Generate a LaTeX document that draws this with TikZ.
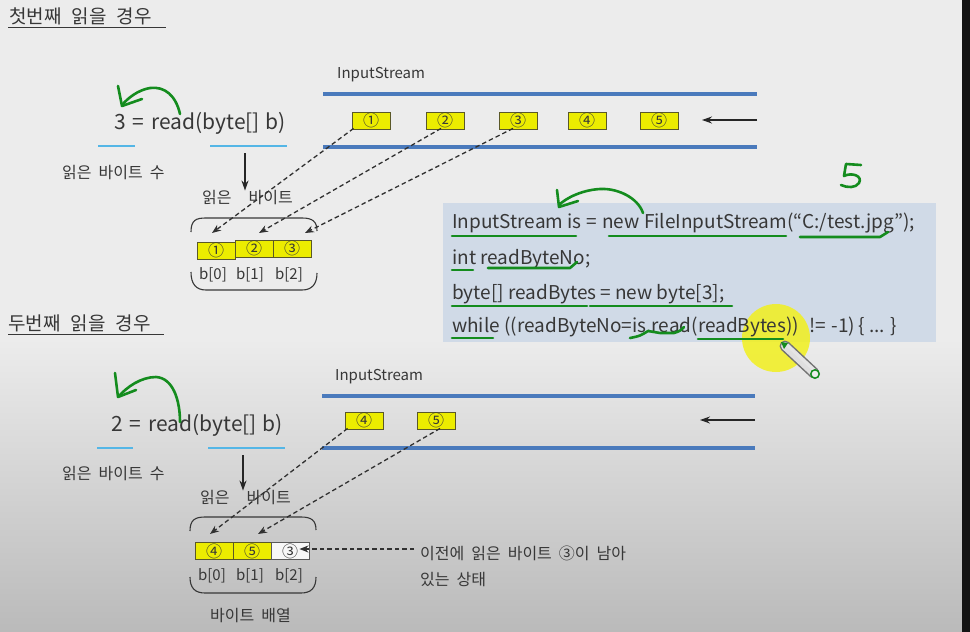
\documentclass[tikz,border=0pt]{standalone}
\usepackage{fontspec}
\setmainfont{Noto Sans CJK KR}
\usetikzlibrary{arrows.meta}
\definecolor{bgtop}{RGB}{236,236,236}
\definecolor{bgbot}{RGB}{186,186,186}
\definecolor{txtgray}{RGB}{55,55,55}
\definecolor{streamblue}{RGB}{74,122,188}
\definecolor{ulblue}{RGB}{84,182,230}
\definecolor{ybyte}{RGB}{236,236,0}
\definecolor{yedge}{RGB}{90,88,40}
\definecolor{codebg}{RGB}{208,218,231}
\definecolor{pengreen}{RGB}{20,140,30}
\definecolor{hiyellow}{RGB}{242,240,30}
\newcommand\kg{\hspace{10pt}}
\newcommand\kk{\hspace{7pt}}
\newcommand\fs[1]{\fontsize{#1}{#1}\selectfont}
\tikzset{
  lbl/.style={text=txtgray, inner sep=0pt, anchor=west},
  ybox/.style={draw=yedge, fill=ybyte, line width=0.9pt, minimum width=38pt, minimum height=17pt, inner sep=0pt, text=txtgray, font=\fs{16}},
  wbox/.style={ybox, fill=white!94!gray, draw=gray!70!black},
  streamline/.style={draw=streamblue, line width=4pt},
  dasharrow/.style={draw=txtgray!90!black, line width=1.3pt, dash pattern=on 4.5pt off 3pt, -{Stealth[length=9pt,width=7pt]}},
  solidarrow/.style={draw=black!85, line width=1.3pt, -{Stealth[length=10pt,width=7pt]}},
  ulb/.style={draw=ulblue, line width=2.6pt},
  brace/.style={draw=txtgray, line width=1.1pt},
  grn/.style={draw=pengreen, line width=2.6pt, line cap=round, line join=round},
  code/.style={text=txtgray, inner sep=0pt, anchor=west, font=\fs{19}},
  blbl/.style={text=txtgray, font=\fs{15}, inner sep=0pt},
  klbl/.style={lbl, font=\fs{16}}
}
\begin{document}
\begin{tikzpicture}[x=1pt,y=-1pt]
\useasboundingbox (0,0) rectangle (970,632);
% background
\fill[bgtop] (0,0) rectangle (962,340);
\shade[top color=bgtop, bottom color=bgbot] (0,339) rectangle (962,632);
\fill[black!92] (962,0) rectangle (970,632);

% ================= first read =================
\node[lbl, font=\fs{19}] (title1) at (9,16) {첫번째\kg 읽을\kg 경우};
\draw[txtgray, line width=1pt] (8,27) -- (166,27);

\node[lbl, font=\fs{21}] (expr1) at (114,123) {3\hspace{7pt}=\hspace{7pt}read(byte[]\hspace{6pt}b)};
\draw[ulb] (98,146) -- (135,146);
\draw[ulb] (210,146) -- (287,146);
\node[klbl] (cnt1) at (62,173) {읽은\kk 바이트\kk 수};
\node[klbl] (rb1) at (202,198) {읽은\hspace{17pt}바이트};
\coordinate (da1s) at (245,153);
\draw[solidarrow] (da1s) -- (rb1.north -| da1s) ;

% braces
\draw[brace] (191,232) .. controls (191,220) and (196,218) .. (206,218) -- (302,218) .. controls (312,218) and (317,221) .. (317,231);
\draw[brace] (191,272) .. controls (191,284) and (196,290) .. (206,290) -- (302,290) .. controls (312,290) and (317,284) .. (317,273);

% array cells
\node[ybox] (c1) at (216,250.5) {①};
\node[ybox] (c2) at (254,248.5) {②};
\node[ybox] (c3) at (292,248.5) {③};
\node[blbl] (b10) at (213,275) {b[0]};
\node[blbl] (b11) at (250,275) {b[1]};
\node[blbl] (b12) at (289,275) {b[2]};

% stream
\node[lbl, font=\fs{15}] (is1) at (337,75) {InputStream};
\draw[streamline] (323,94) -- (757,94);
\draw[streamline] (323,147) -- (757,147);
\node[ybox] (s1) at (371,120.5) {①};
\node[ybox] (s2) at (445,120.5) {②};
\node[ybox] (s3) at (518,120.5) {③};
\node[ybox] (s4) at (587,120.5) {④};
\node[ybox] (s5) at (659,120.5) {⑤};
\coordinate (in1a) at (757,120);
\coordinate (in1b) at (702,120);
\draw[solidarrow] (in1a) -- (in1b);

\coordinate (t1) at (212,233);
\coordinate (t2) at (259,233);
\coordinate (t3) at (305,233);
\draw[dasharrow] (s1.south west) ++(2,-1) -- (t1);
\draw[dasharrow] ([xshift=-4pt,yshift=1pt]s2.south) -- (t2);
\draw[dasharrow] ([xshift=-5pt,yshift=1pt]s3.south) -- (t3);

% ================= code box =================
\fill[codebg] (443,203) rectangle (936,342);
% cursor highlight (under the text)
\fill[hiyellow, opacity=0.85] (776,338) circle (34pt);
\node[code] (L1) at (452,223) {InputStream is\hspace{5pt}=\hspace{5pt}new FileInputStream(“C:/test.jpg”);};
\node[code] (L2) at (452,259) {int readByteNo;};
\node[code] (L3) at (452,294) {byte[] readBytes\hspace{4pt}=\hspace{4pt}new byte[3];};
\node[code] (L4) at (452,327) {while ((readByteNo=is.read(readBytes))\hspace{10pt}!=\hspace{6pt}-1)\hspace{3pt}\{ ... \}};

% green annotations in code
\draw[grn] (452,236) -- (576,236);
\draw[grn] (609,236) -- (786,236);
\draw[grn] (800,237) -- (880,237) -- (888,232);
\draw[grn] (452,270) -- (473,270);
\draw[grn] (488,268) -- (570,268) .. controls (574,265) .. (577,262);
\draw[grn] (452,306) -- (587,306);
\draw[grn] (590,306) -- (732,306);
\draw[grn] (452,338) -- (493,338);
\draw[grn] (630,338) .. controls (640,336) .. (648,331) -- (660,333) -- (674,333) .. controls (680,331) .. (684,327);
\draw[grn] (698,339) -- (783,339);
\draw[grn] (643,213) .. controls (638,198) and (618,188) .. (600,189) .. controls (582,190) and (566,198) .. (559,205);
\draw[grn] (557,190) -- (559,207) -- (578,201);
% handwritten 5
\draw[grn] (861,165) -- (846,164) -- (844,176) .. controls (852,172) and (863,176) .. (859,183) .. controls (856,188) and (847,188) .. (841,185);

% pen cursor
\draw[black!55, line width=11pt, line cap=round] (785,346) -- (814,373);
\draw[gray!25, line width=8pt, line cap=round] (785,346) -- (814,373);
\draw[white!80!gray, line width=3pt, line cap=round] (787,345) -- (815,371);
\draw[pengreen, line width=1.5pt, fill=white!85!gray] (815,374) circle (4.2pt);
\fill[pengreen] (781,342) -- (788,343) -- (784,349) -- cycle;

% first-read green arrow
\draw[grn] (180,114) .. controls (176,96) and (165,86) .. (150,88) .. controls (138,90) and (128,98) .. (122,105);
\draw[grn] (118,86) -- (122,106) -- (142,99);

% ================= second read =================
\node[lbl, font=\fs{19}] (title2) at (8,323) {두번째\kg 읽을\kg 경우};
\draw[txtgray, line width=1pt] (8,334) -- (164,334);

\node[lbl, font=\fs{21}] (expr2) at (111,425) {2\hspace{7pt}=\hspace{7pt}read(byte[]\hspace{6pt}b)};
\draw[ulb] (97,448) -- (133,448);
\draw[ulb] (208,448) -- (285,448);
\node[klbl] (cnt2) at (62,474) {읽은\kk 바이트\kk 수};
\node[klbl] (rb2) at (200,498) {읽은\hspace{17pt}바이트};
\coordinate (da2s) at (243,455);
\draw[solidarrow] (da2s) -- (rb2.north -| da2s);

% second-read green arrow
\draw[grn] (180,422) .. controls (180,400) and (173,378) .. (156,377) .. controls (141,377) and (127,387) .. (119,396);
\draw[grn] (115,373) -- (118,397) -- (136,390);

\draw[brace] (190,531) .. controls (190,520) and (195,517) .. (205,517) -- (301,517) .. controls (311,517) and (316,520) .. (316,530);
\draw[brace] (190,577) .. controls (190,588) and (195,593) .. (205,593) -- (301,593) .. controls (311,593) and (316,588) .. (316,577);

\node[ybox] (d1) at (214,551) {④};
\node[ybox] (d2) at (252,551) {⑤};
\node[wbox] (d3) at (290,551) {③};
\node[blbl] (b20) at (212,576) {b[0]};
\node[blbl] (b21) at (250,576) {b[1]};
\node[blbl] (b22) at (289,576) {b[2]};
\node[klbl] (arr2) at (210,616) {바이트\kk 배열};

\node[lbl, font=\fs{15}] (is2) at (335,377) {InputStream};
\draw[streamline] (322,396) -- (755,396);
\draw[streamline] (322,448) -- (755,448);
\node[ybox] (r4) at (364,420.5) {④};
\node[ybox] (r5) at (436,420.5) {⑤};
\coordinate (in2a) at (755,420);
\coordinate (in2b) at (700,420);
\draw[solidarrow] (in2a) -- (in2b);

\coordinate (u1) at (210,534);
\coordinate (u2) at (258,534);
\draw[dasharrow] ([xshift=3pt,yshift=1pt]r4.south west) -- (u1);
\draw[dasharrow] ([xshift=4pt,yshift=1pt]r5.south) -- (u2);

\node[klbl] (note1) at (420,553) {이전에\kk 읽은\kk 바이트\kk ③이\kk 남아};
\node[klbl] (note2) at (420,580) {있는\kk 상태};
\draw[dasharrow] (note1.west) ++(-6,-4) coordinate (nstart) -- ([xshift=-10pt]d3.east |- nstart);
\end{tikzpicture}
\end{document}
